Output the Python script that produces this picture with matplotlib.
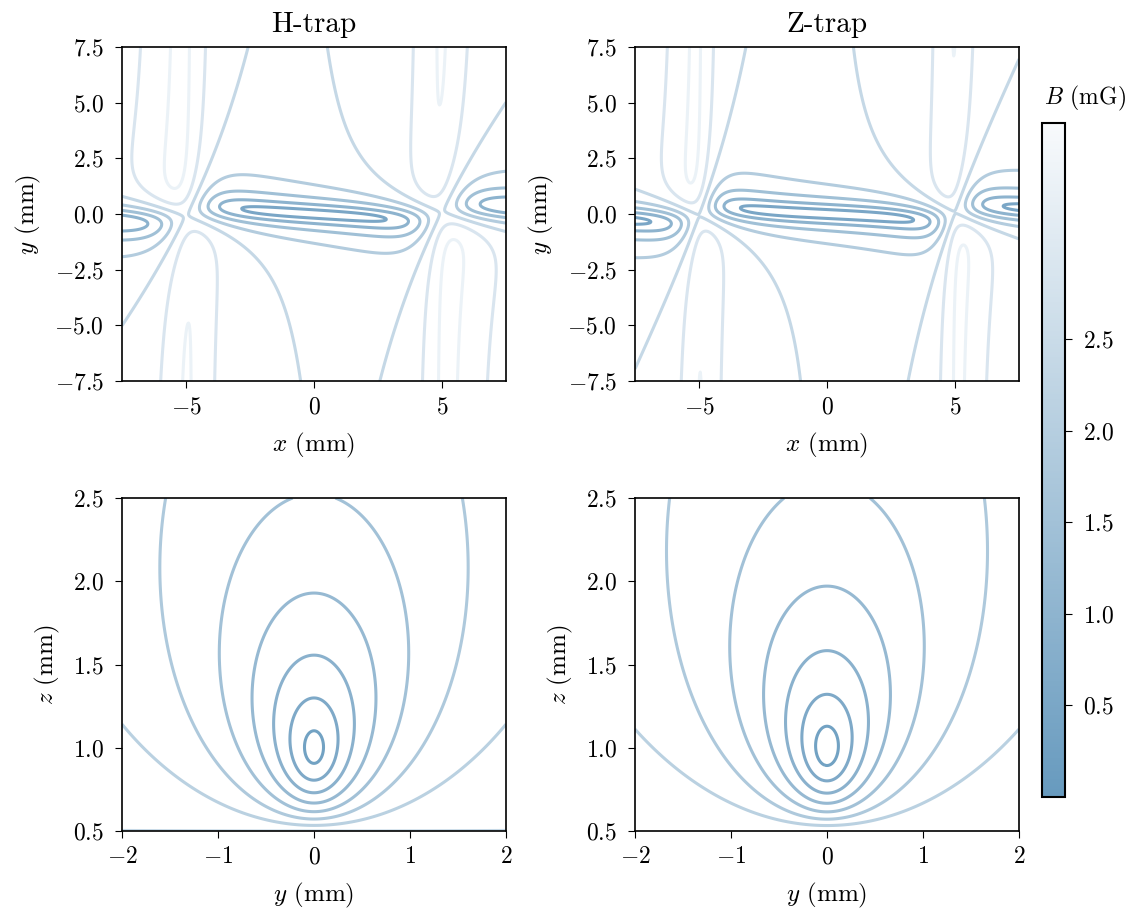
import numpy as np
import matplotlib
matplotlib.use('Agg')
import matplotlib.pyplot as plt
from matplotlib.colors import LinearSegmentedColormap, Normalize
from matplotlib.cm import ScalarMappable

plt.rcParams['font.family'] = 'serif'
plt.rcParams['font.serif'] = ['cmr10']
plt.rcParams['mathtext.fontset'] = 'cm'
plt.rcParams['axes.formatter.use_mathtext'] = True
plt.rcParams['axes.linewidth'] = 1.2
plt.rcParams['xtick.major.size'] = 5
plt.rcParams['ytick.major.size'] = 5
plt.rcParams['xtick.major.pad'] = 6
plt.rcParams['ytick.major.pad'] = 8

# trap settings (lengths in mm, fields in mG)
traps = ['H-trap', 'Z-trap']
bias = [2.40, 2.395]           # homogeneous bias along y
z_trap = 1.0                   # height where guide wire and bias cancel
leg_x = [5.0, 5.0]             # cross wires at x = +/- leg_x
leg_depth = [1.0, 0.75]        # cross wires below the trap plane
leg_strength = [2.40, 1.785]   # mu0 I / 2 pi of the cross wires (mG mm)

levels_xy = [0.48, 0.96, 1.44, 1.92, 2.40, 2.88, 3.36]
levels_yz = [0.3, 0.6, 0.9, 1.2, 1.5, 1.8, 2.1, 2.4]
cbar_ticks = [0.5, 1.0, 1.5, 2.0, 2.5]
cbar_range = [0.0, 3.68]


def field(x, y, z, k):
    # infinite guide wire along x at y = z = 0
    K = bias[k] * z_trap
    r2 = y**2 + z**2
    Bx = np.zeros_like(x + y + z)
    By = -K * z / r2 + bias[k]
    Bz = K * y / r2
    # two cross wires along y
    for s in (-1, 1):
        dx = x - s * leg_x[k]
        dz = z - (z_trap - leg_depth[k])
        rl = dx**2 + dz**2
        Bx = Bx + leg_strength[k] * dz / rl
        Bz = Bz - leg_strength[k] * dx / rl
    return np.sqrt(Bx**2 + By**2 + Bz**2)


cmap = LinearSegmentedColormap.from_list('bfield', ['#679abe', '#f8fafc'])
norm = Normalize(vmin=cbar_range[0], vmax=cbar_range[1])

fig = plt.figure(figsize=(11.26, 9.18), dpi=100)
W, H = 1126, 918
pos = {(0, 0): (122, 47), (0, 1): (635, 47), (1, 0): (122, 498), (1, 1): (635, 498)}

xg = np.linspace(-7.5, 7.5, 601)
yg = np.linspace(-7.5, 7.5, 601)
X, Y = np.meshgrid(xg, yg)
yy = np.linspace(-2, 2, 401)
zz = np.linspace(0.5, 2.5, 401)
YY, ZZ = np.meshgrid(yy, zz)

for k, name in enumerate(traps):
    # top: xy plane at trap height
    l, t = pos[(0, k)]
    ax = fig.add_axes([l / W, 1 - (t + 334) / H, 384 / W, 334 / H])
    B = field(X, Y, np.full_like(X, z_trap), k)
    ax.contour(X, Y, B, levels=levels_xy, cmap=cmap, norm=norm, linewidths=2.2)
    ax.set_xlim(-7.5, 7.5)
    ax.set_ylim(-7.5, 7.5)
    ax.set_yticks([-7.5, -5, -2.5, 0, 2.5, 5, 7.5])
    ax.set_xticks([-5, 0, 5])
    ax.set_xlabel('$x$ (mm)', fontsize=18, labelpad=9)
    ax.set_ylabel('$y$ (mm)', fontsize=18, labelpad=8)
    ax.set_title(name, fontsize=21, pad=11)
    ax.tick_params(labelsize=17)

    # bottom: yz plane at x = 0
    l, t = pos[(1, k)]
    ax = fig.add_axes([l / W, 1 - (t + 333) / H, 384 / W, 333 / H])
    B = field(np.zeros_like(YY), YY, ZZ, k)
    ax.contour(YY, ZZ, B, levels=levels_yz, cmap=cmap, norm=norm, linewidths=2.2)
    ax.set_xlim(-2, 2)
    ax.set_ylim(0.5, 2.5)
    ax.set_xticks([-2, -1, 0, 1, 2])
    ax.set_yticks([0.5, 1.0, 1.5, 2.0, 2.5])
    ax.set_xlabel('$y$ (mm)', fontsize=18, labelpad=9)
    ax.set_ylabel('$z$ (mm)', fontsize=18, labelpad=8)
    ax.tick_params(labelsize=17)

cax = fig.add_axes([1042 / W, 1 - 797 / H, 23 / W, 674 / H])
cb = fig.colorbar(ScalarMappable(norm=norm, cmap=cmap), cax=cax, ticks=cbar_ticks)
cb.outline.set_linewidth(1.5)
cax.tick_params(labelsize=17)
cax.text(1.85, 1.027, '$B$ (mG)', transform=cax.transAxes, ha='center',
         va='baseline', fontsize=17)

fig.savefig('out.png', dpi=100)
